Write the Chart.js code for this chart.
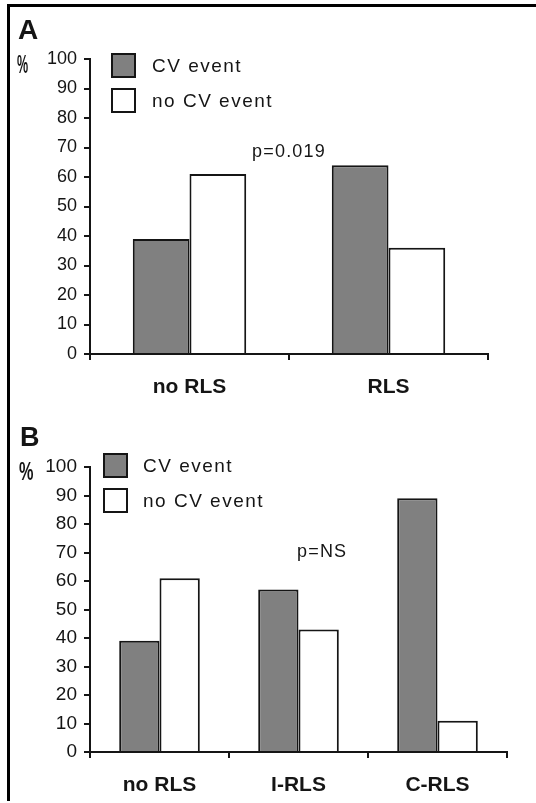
<!DOCTYPE html>
<html><head><meta charset="utf-8">
<script src="https://cdn.jsdelivr.net/npm/chart.js@4/dist/chart.umd.min.js"></script>
<style>
html,body{margin:0;padding:0;background:#fff;width:536px;height:803px;overflow:hidden}
#frame{position:absolute;left:7px;top:4px;width:529px;height:797px;border-top:3px solid #000;border-left:3px solid #000;box-sizing:border-box}
.c{position:absolute;left:0}
</style></head><body>
<div id="frame"></div>
<div class="c" style="top:0"><canvas id="a" width="536" height="400"></canvas></div>
<div class="c" style="top:400px"><canvas id="b" width="536" height="403"></canvas></div>
<script>
// ---- data ----
const seriesLabels = ['CV event', 'no CV event'];
const categoriesA = ['no RLS', 'RLS'];
const cvEventA = [39, 64];
const noCvEventA = [61, 36];
const categoriesB = ['no RLS', 'I-RLS', 'C-RLS'];
const cvEventB = [39, 57, 89];
const noCvEventB = [61, 43, 11];
const yMin = 0, yMax = 100, yStep = 10;
const pTextA = 'p=0.019';
const pTextB = 'p=NS';

const FONT = '"Liberation Sans", Arial, Helvetica, sans-serif';
const GRAY = '#808080';
const INK = '#151515';

const decor = {
  id: 'decor',
  afterDraw(chart, args, o) {
    const ctx = chart.ctx;
    ctx.save();
    ctx.fillStyle = INK;
    ctx.textAlign = 'left';
    ctx.textBaseline = 'alphabetic';
    ctx.font = `bold ${o.letterSize}px ${FONT}`;
    ctx.fillText(o.letter, o.letterX, o.letterY);
    ctx.save();
    ctx.translate(o.pctX, o.pctY);
    ctx.scale(o.pctScale, 1);
    ctx.font = `bold ${o.pctSize}px ${FONT}`;
    ctx.fillText('%', 0, 0);
    ctx.restore();
    chart.data.datasets.forEach((ds, i) => {
      const y = o.legY + i * o.legGap;
      ctx.fillStyle = ds.backgroundColor;
      ctx.fillRect(o.legX, y, o.box, o.box);
      ctx.lineWidth = 2;
      ctx.strokeStyle = INK;
      ctx.strokeRect(o.legX, y, o.box, o.box);
      ctx.fillStyle = INK;
      ctx.font = `19px ${FONT}`;
      try { ctx.letterSpacing = '1.5px'; } catch (e) {}
      ctx.textBaseline = 'middle';
      ctx.fillText(ds.label, o.legTextX, y + o.box / 2 + 1);
    });
    const px = chart.scales.x.getPixelForValue(o.pAt[0]);
    const py = chart.scales.y.getPixelForValue(o.pAt[1]);
    ctx.textAlign = 'center';
    ctx.textBaseline = 'middle';
    ctx.font = `18px ${FONT}`;
    try { ctx.letterSpacing = '1.2px'; } catch (e) {}
    ctx.fillText(o.pText, px, py);
    ctx.restore();
  }
};

function makeChart(id, cats, cv, nocv, geo) {
  return new Chart(document.getElementById(id), {
    type: 'bar',
    data: {
      labels: cats,
      datasets: [
        { label: seriesLabels[0], data: cv, backgroundColor: GRAY, borderColor: INK, borderWidth: 2 },
        { label: seriesLabels[1], data: nocv, backgroundColor: '#ffffff', borderColor: INK, borderWidth: 2 }
      ]
    },
    options: {
      responsive: false,
      animation: false,
      datasets: { bar: { categoryPercentage: geo.catPct, barPercentage: 1.0 } },
      layout: { padding: { top: geo.top, right: geo.right, left: 0, bottom: 0 } },
      plugins: {
        legend: { display: false },
        tooltip: { enabled: false },
        decor: geo.decor
      },
      scales: {
        x: {
          afterFit: s => { s.height = geo.xh; },
          grid: { drawOnChartArea: false, drawTicks: true, tickLength: 6, color: INK, lineWidth: 2, offset: true },
          border: { display: true, color: INK, width: 2 },
          ticks: { color: INK, font: { family: FONT, size: 21, weight: 'bold' }, padding: 15, maxRotation: 0 }
        },
        y: {
          min: yMin, max: yMax,
          afterFit: s => { s.width = 90; },
          grid: { drawOnChartArea: false, drawTicks: true, tickLength: 6, color: INK, lineWidth: 2 },
          border: { display: true, color: INK, width: 2 },
          ticks: { stepSize: yStep, color: INK, font: { family: FONT, size: geo.tickSize }, padding: 7 }
        }
      }
    },
    plugins: [decor]
  });
}

makeChart('a', categoriesA, cvEventA, noCvEventA, {
  catPct: 0.57, top: 59, right: 48, xh: 46, tickSize: 18,
  decor: { letter: 'A', letterSize: 28, letterX: 18, letterY: 39,
    pctX: 17, pctY: 73, pctSize: 25, pctScale: 0.5,
    legX: 112, legY: 54, legGap: 35, box: 23, legTextX: 152,
    pText: pTextA, pAt: [0.5, 68.5] }
});
makeChart('b', categoriesB, cvEventB, noCvEventB, {
  catPct: 0.58, top: 67, right: 29, xh: 51, tickSize: 19,
  decor: { letter: 'B', letterSize: 27, letterX: 20, letterY: 46,
    pctX: 19, pctY: 80, pctSize: 25, pctScale: 0.65,
    legX: 104, legY: 54, legGap: 35, box: 23, legTextX: 143,
    pText: pTextB, pAt: [1.17, 70.2] }
});
</script>
</body></html>
